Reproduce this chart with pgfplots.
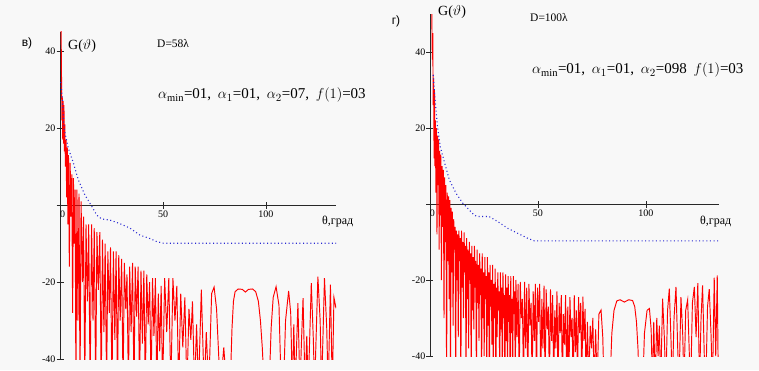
\documentclass[border=0pt]{standalone}
\usepackage{pgfplots}
\pgfplotsset{compat=1.18}
\usepackage{fontspec}
\setmainfont{Liberation Serif}
\newfontfamily\lsans{Liberation Sans}
\definecolor{bg}{RGB}{248,248,248}
\definecolor{axc}{RGB}{40,40,40}
\definecolor{dotblue}{RGB}{40,40,210}
\pgfplotsset{
  panel/.style={
    scale only axis, axis lines=middle, enlargelimits=false, clip=true,
    axis line style={-, axc, line width=0.8pt},
    tick style={axc, line width=0.8pt},
    tick align=center, major tick length=7pt,
    xtick={0,50,100}, xticklabels={\rlap{0},50,100},
    ytick={-40,-20,0,20,40}, yticklabels={-40,-20,{},20,40},
    hide obscured x ticks=false, hide obscured y ticks=false,
    tick label style={font=\fontsize{10}{10}\selectfont},
    yticklabel style={inner sep=1pt},
    xticklabel style={inner sep=2pt},
    xmin=-1, xmax=134, ymin=-40,
  },
  redline/.style={red, line width=0.95pt, line join=miter},
  blueline/.style={dotblue, line width=1.1pt, dash pattern=on 1pt off 2.6pt},
}
\begin{document}
\begin{tikzpicture}[x=1pt,y=1pt]
\path[fill=bg] (0,0) rectangle (759,370);
% ---------------- left panel ----------------
\begin{axis}[panel, at={(58pt,11pt)}, anchor=south west, width=278pt, height=327pt, ymax=45]
\addplot[redline] coordinates {
(0,60) (0.3,55) (0.6,40) (0.9,22) (1.1,28) (1.3,17) (1.5,27) (1.7,16) (1.9,26) (2.1,14) (2.3,21) (2.6,10) (2.9,17) (3.2,2) (3.5,15) (3.8,-5) (4.1,13) (4.5,-16) (4.9,11) (5.3,-3) (5.7,8) (6.1,-28) (6.5,7) (6.9,-10) (7.3,4) (7.7,-48) (8.2,4) (8.7,-30) (9.2,3) (9.7,-48) (10.2,1)
(10.9,-20) (11.4,-3) (12.0,-48) (12.6,-5) (13.3,-25) (13.9,-5) (14.6,-48) (15.3,-5) (16.0,-30) (16.6,-6) (17.3,-48) (17.9,-7) (18.6,-22) (19.3,-7) (20.0,-48) (20.6,-9) (21.3,-33) (21.9,-10) (22.6,-48) (23.2,-12) (23.9,-28) (24.5,-11) (25.2,-48) (25.9,-12) (26.6,-35) (27.2,-12) (27.9,-48) (28.5,-13) (29.2,-30) (29.9,-14) (30.6,-48) (31.2,-15) (31.9,-27) (32.5,-18) (33.2,-48) (33.8,-16) (34.5,-33) (35.2,-15) (35.9,-48) (36.5,-16) (37.2,-29) (37.9,-16) (38.6,-48) (39.3,-17) (40.0,-36) (40.7,-17) (41.4,-48) (42.1,-18) (42.8,-31) (43.5,-20) (44.2,-48) (44.9,-19) (45.6,-34) (46.3,-19) (47.0,-48) (47.7,-23) (48.4,-38) (49.1,-21) (49.8,-48)
(50.8,-19) (51.8,-33) (52.8,-19) (53.8,-48) (54.8,-19) (55.8,-30) (56.7,-21) (57.6,-48) (58.6,-23) (59.6,-37) (60.6,-24) (61.6,-48) (62.6,-27) (63.5,-35) (64.3,-25) (65.3,-48) (66.3,-31) (67.2,-48) (68.6,-22) (70.0,-48) (71.0,-33) (72.2,-48) (73.6,-23) (74.8,-21.3) (76.0,-27) (77.8,-48) (79.5,-37) (81.0,-48)
(82.8,-44) (83.5,-32) (84.2,-25) (85.0,-22.5) (86.5,-21.8) (88.5,-21.9) (90.0,-22.6) (91.5,-21.9) (93.5,-21.8) (95.0,-22.5) (96.3,-25) (97.3,-30) (98.2,-37) (99.2,-48)
(101.5,-48) (102.5,-32) (103.5,-24) (104.9,-21.2) (106.3,-26) (107.4,-48) (108.5,-48) (109.5,-30) (111.0,-22.3) (112.0,-28) (112.8,-48) (113.5,-31) (114.2,-48) (115.5,-25.5) (116.5,-48) (117.2,-36) (118.0,-24.2) (119.0,-48) (119.8,-34) (120.5,-48) (122.0,-20.3) (123.0,-35) (123.6,-48) (125.2,-18.6) (126.3,-30) (127.0,-48) (128.4,-19) (129.5,-32) (130.2,-48) (131.3,-20.7) (132.2,-48) (133.0,-24) (134,-26.8)
};
\addplot[blueline] coordinates {
(0.3,32) (1.1,28) (1.9,20) (4,14.8) (6.5,10.9) (8.9,6.5) (12.1,2.6) (15.4,-0.3) (17.8,-2.6) (20.2,-3.6) (24.3,-3.9) (29,-4.8) (34,-6) (38.8,-7.8) (43.7,-8.7) (47,-9.5) (50.2,-9.9) (134,-9.9)
};
\end{axis}
% ---------------- right panel ----------------
\begin{axis}[panel, at={(427.8pt,14pt)}, anchor=south west, width=291.6pt, height=342pt, ymax=50]
\addplot[redline] coordinates {
(0,60) (0.4,58) (0.8,52) (1.1,38) (1.3,45) (1.5,26) (1.7,33) (1.9,12) (2.1,30) (2.3,10) (2.5,22) (2.75,3) (3.0,20) (3.25,-8) (3.5,18) (3.75,5) (4.0,17) (4.25,-12) (4.5,14) (4.75,-3) (5.0,13) (5.3,-20) (5.6,10) (5.9,-6) (6.2,9) (6.5,-30) (6.8,7) (7.1,-10) (7.4,5) (7.7,-48) (8.0,3) (8.3,-15) (8.6,2) (8.9,-25) (9.2,1) (9.5,-48) (9.8,-1) (10.1,-18) (10.4,-2) (10.7,-32) (11.0,-4) (11.3,-12) (11.6,-6) (11.9,-48) (12.2,-7) (12.5,-20) (12.8,-8) (13.1,-35) (13.4,-7) (13.7,-15) (14.0,-9) (14.3,-48) (14.6,-7) (14.9,-22) (15.2,-10) (15.5,-30) (15.8,-7.5) (16.1,-18) (16.4,-11) (16.7,-48) (17.0,-9) (17.3,-25) (17.6,-12) (17.9,-38) (18.2,-10) (18.5,-20) (18.8,-13) (19.1,-48) (19.4,-11) (19.7,-28) (20.0,-14) (20.3,-33) (20.6,-11) (20.9,-22) (21.2,-15) (21.5,-48) (21.8,-12) (22.1,-26) (22.4,-16) (22.7,-36) (23.0,-13) (23.3,-24) (23.6,-17) (23.9,-48) (24.2,-13) (24.5,-30) (24.8,-18) (25.1,-40) (25.4,-14) (25.7,-25) (26.0,-19) (26.3,-48) (26.6,-14) (26.9,-32) (27.2,-18) (27.5,-48) (27.8,-16) (28.1,-27) (28.4,-20) (28.7,-37) (29.0,-16) (29.3,-48) (29.6,-21) (29.9,-30) (30.2,-17) (30.5,-48) (30.8,-22) (31.1,-35) (31.4,-18) (31.7,-28) (32.0,-23) (32.3,-48) (32.6,-18) (32.9,-33) (33.2,-22) (33.5,-48) (33.8,-18) (34.1,-30) (34.4,-24) (34.7,-48) (35.0,-18.5) (35.3,-36) (35.6,-22) (35.9,-48) (36.2,-19) (36.5,-31) (36.8,-24) (37.1,-48) (37.4,-19) (37.7,-34) (38.0,-25) (38.3,-48) (38.6,-19) (38.9,-29) (39.2,-23) (39.5,-48) (39.8,-20)
(40.3,-35) (40.8,-21) (41.3,-48) (41.8,-20.5) (42.3,-30) (42.8,-25) (43.3,-48) (43.8,-20.5) (44.3,-38) (44.8,-22) (45.3,-48) (45.8,-21) (46.3,-32) (46.8,-26) (47.3,-48) (47.8,-23) (48.3,-36) (48.8,-21) (49.3,-48) (49.8,-22) (50.3,-31) (50.8,-21) (51.3,-48) (51.8,-25) (52.3,-38) (52.8,-21.5) (53.3,-48) (53.8,-22.5) (54.3,-33) (54.8,-27) (55.3,-48) (55.8,-22.5) (56.3,-36) (56.8,-24) (57.3,-48) (57.8,-28) (58.3,-38) (58.8,-23) (59.3,-48) (59.8,-26) (60.3,-34) (60.8,-24) (61.3,-48) (61.8,-29) (62.3,-37) (62.8,-24) (63.3,-48) (63.8,-27) (64.3,-48) (64.8,-24.5) (65.3,-35) (65.8,-30) (66.3,-48) (66.8,-24) (67.3,-39) (67.8,-28) (68.3,-48) (68.8,-24.5) (69.3,-34) (69.8,-26) (70.3,-48) (70.8,-24.4) (71.3,-36) (71.8,-27.6) (72.3,-48) (72.9,-31) (73.5,-48) (74.2,-32) (74.8,-38) (75.4,-30) (76.0,-48) (76.7,-33) (77.4,-48) (78.2,-29) (79.2,-27.9) (80.0,-35) (80.6,-48)
(83.3,-48) (84.2,-34) (85.2,-28) (86.5,-25.5) (88.0,-25.2) (90.0,-25.8) (92.0,-25.2) (93.8,-25.4) (94.8,-27) (95.6,-31) (96.3,-38) (96.9,-48)
(98.5,-48) (99.3,-34) (100.5,-28) (101.6,-27.5) (102.4,-33) (103.0,-48) (103.6,-31) (104.3,-48) (105.0,-30) (105.6,-40) (106.2,-32) (106.8,-48) (107.7,-24.9) (108.5,-35) (109.2,-48) (110.0,-28) (110.8,-22.3) (111.6,-36) (112.2,-48) (113.0,-30) (113.9,-21.8) (114.7,-38) (115.3,-48) (116.2,-24.5) (117.0,-34) (117.6,-48) (118.4,-28) (119.3,-25.2) (120.1,-40) (120.7,-48) (121.5,-26) (122.4,-21.8) (123.2,-35) (124.0,-20.8) (124.8,-48) (125.5,-30) (126.2,-21.4) (127.0,-40) (127.7,-48) (128.5,-27) (129.3,-22.4) (130.1,-34) (130.8,-48) (131.6,-19.4) (132.3,-40) (133.0,-18.8) (133.5,-48)
};
\addplot[blueline] coordinates {
(1.5,34) (2,30) (2.8,24.7) (3.5,20.3) (4.8,15) (6.4,11.6) (9,6.3) (12.1,2.8) (15.1,0.3) (17.4,-1.1) (20.4,-2.9) (22,-3.3) (27.4,-3.3) (31.3,-4.6) (36,-6.4) (40.6,-7.7) (45.2,-9) (48.3,-9.7) (133.5,-9.7)
};
\end{axis}
% ---------------- texts ----------------
\node[font=\lsans\fontsize{12}{12}\selectfont] at (27,327) {в)};
\node[font=\lsans\fontsize{12}{12}\selectfont] at (396,349) {г)};
\node[anchor=base west, inner sep=0pt, font=\fontsize{14}{14}\selectfont] at (68,320) {G($\vartheta$)};
\node[anchor=base west, inner sep=0pt, font=\fontsize{14}{14}\selectfont] at (438,354) {G($\vartheta$)};
\node[anchor=base west, inner sep=0pt, font=\fontsize{11.5}{11.5}\selectfont] at (157,322) {D=58λ};
\node[anchor=base west, inner sep=0pt, font=\fontsize{11.5}{11.5}\selectfont] at (530,348) {D=100λ};
\node[anchor=base west, inner sep=0pt, font=\fontsize{15}{15}\selectfont] at (158,271) {$\alpha_{\min}$=01,\hspace{0.45em}$\alpha_1$=01,\hspace{0.45em}$\alpha_2$=07,\hspace{0.45em}$f(1)$=03};
\node[anchor=base west, inner sep=0pt, font=\fontsize{15}{15}\selectfont] at (532,296) {$\alpha_{\min}$=01,\hspace{0.45em}$\alpha_1$=01,\hspace{0.45em}$\alpha_2$=098\hspace{0.45em}$f(1)$=03};
\node[anchor=north west, inner sep=0pt, font=\fontsize{12}{12}\selectfont] at (322,154) {θ,град};
\node[anchor=north west, inner sep=0pt, font=\fontsize{12}{12}\selectfont] at (700,154) {θ,град};
\end{tikzpicture}
\end{document}
